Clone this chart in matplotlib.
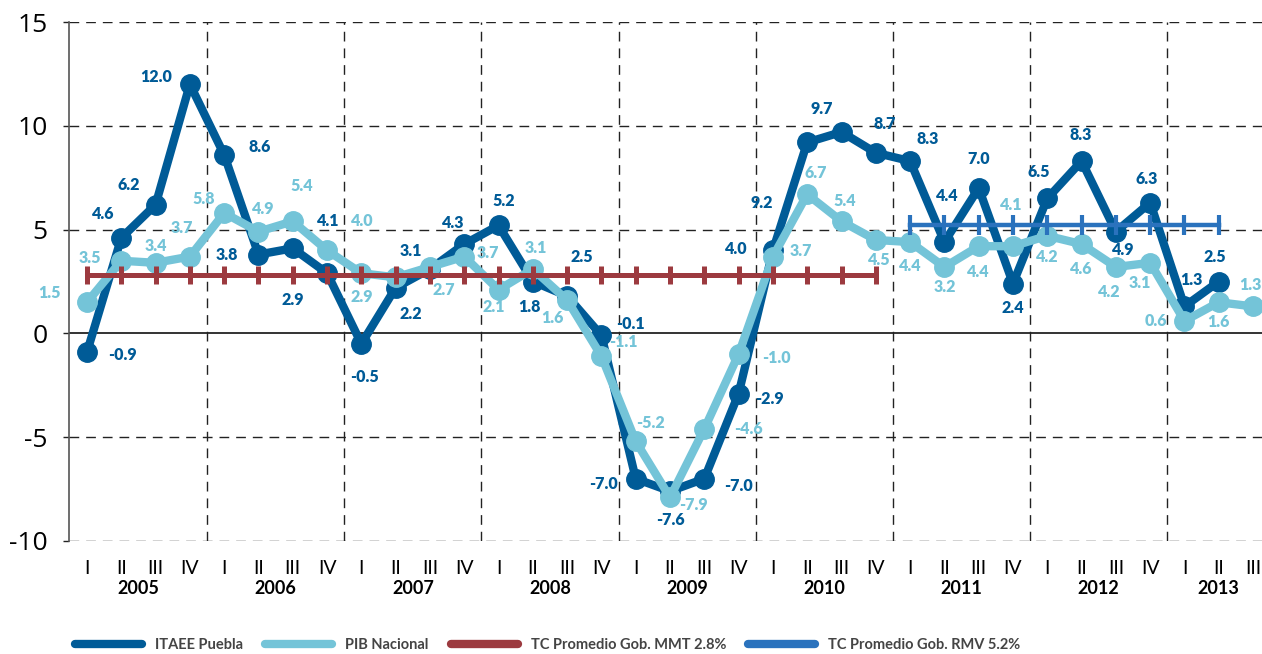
import numpy as np
import matplotlib
matplotlib.use('Agg')
import matplotlib.pyplot as plt
from matplotlib.lines import Line2D

# Quarters 2005 I .. 2013 III
years = ['2005', '2006', '2007', '2008', '2009', '2010', '2011', '2012', '2013']
quarters = ['I', 'II', 'III', 'IV']

# ITAEE Puebla (2005 I .. 2013 II)
itaee = [-0.9, 4.6, 6.2, 12.0, 8.6, 3.8, 4.1, 2.9, -0.5, 2.2, 3.1, 4.3,
         5.2, 2.5, 1.8, -0.1, -7.0, -7.6, -7.0, -2.9, 4.0, 9.2, 9.7, 8.7,
         8.3, 4.4, 7.0, 2.4, 6.5, 8.3, 4.9, 6.3, 1.3, 2.5]
itaee_labels = ['-0.9', '4.6', '6.2', '12.0', '8.6', '3.8', '4.1', '2.9', '-0.5', '2.2', '3.1', '4.3',
                '5.2', '1.8', '2.5', '-0.1', '-7.0', '-7.6', '-7.0', '-2.9', '4.0', '9.2', '9.7', '8.7',
                '8.3', '4.4', '7.0', '2.4', '6.5', '8.3', '4.9', '6.3', '1.3', '2.5']

# PIB Nacional (2005 I .. 2013 III)
pib = [1.5, 3.5, 3.4, 3.7, 5.8, 4.9, 5.4, 4.0, 2.9, 2.7, 3.2, 3.7,
       2.1, 3.1, 1.6, -1.1, -5.2, -7.9, -4.6, -1.0, 3.7, 6.7, 5.4, 4.5,
       4.4, 3.2, 4.2, 4.2, 4.7, 4.3, 3.2, 3.4, 0.6, 1.5, 1.3]
pib_labels = ['1.5', '3.5', '3.4', '3.7', '5.8', '4.9', '5.4', '4.0', '2.9', '', '2.7', '3.7',
              '2.1', '3.1', '1.6', '-1.1', '-5.2', '-7.9', '-4.6', '-1.0', '3.7', '6.7', '5.4', '4.5',
              '4.4', '3.2', '4.4', '4.1', '4.2', '4.6', '4.2', '3.1', '0.6', '1.6', '1.3']

# average growth lines
mmt_value = 2.8
mmt_range = (0, 23)     # 2005 I .. 2010 IV
rmv_value = 5.2
rmv_range = (24, 33)    # 2011 I .. 2013 II

legend_labels = ['ITAEE Puebla', 'PIB Nacional', 'TC Promedio Gob. MMT 2.8%', 'TC Promedio Gob. RMV 5.2%']

# label offsets in pixels (dx, dy with dy downward)
dark_off = [(35, 3), (-18, -24), (-27, -20), (-34, -7), (35, -8), (-32, 0), (35, -27), (-34, 27),
            (3, 33), (15, 26), (-19, -18), (-11, -21), (5, -24), (-3, 25), (15, -39), (29, -11),
            (-32, 5), (0, 29), (34, 7), (31, 5), (-37, -1), (-45, 61), (-20, -23), (9, -29),
            (18, -22), (3, -46), (0, -29), (0, 24), (-9, -26), (-1, -26), (7, 18), (-4, -24),
            (7, -26), (-4, -24)]
light_off = [(-38, -9), (-31, -3), (0, -17), (-8, -29), (-21, -14), (5, -23), (9, -35), (35, -29),
             (0, 24), (0, 0), (14, 23), (24, -4), (-5, 17), (3, -21), (-15, 18), (22, -14),
             (15, -18), (23, 8), (44, 0), (38, 4), (28, -6), (9, -21), (3, -20), (3, 20),
             (0, 24), (0, 20), (0, 26), (-2, -41), (0, 21), (0, 25), (-7, 25), (-10, 20),
             (-29, 0), (0, 20), (-3, -21)]

c_dark = '#005b97'
c_light = '#74c4d8'
c_red = '#9c3a3f'
c_blue = '#2a72bd'

fig = plt.figure(figsize=(12.62, 6.54), dpi=100)
ax = fig.add_axes([69 / 1262, 113 / 654, 1193 / 1262, 519 / 654])

x_dark = np.arange(len(itaee))
x_light = np.arange(len(pib))

ax.plot(x_dark, itaee, color=c_dark, lw=6, marker='o', ms=14, zorder=3, clip_on=False,
        solid_joinstyle='round')
ax.plot(x_light, pib, color=c_light, lw=6, marker='o', ms=14, zorder=4, clip_on=False,
        solid_joinstyle='round')

xm = np.arange(mmt_range[0], mmt_range[1] + 1)
ax.plot(xm, [mmt_value] * len(xm), color=c_red, lw=3.6, marker='|', ms=13, mew=3.6, zorder=5)
xr = np.arange(rmv_range[0], rmv_range[1] + 1)
ax.plot(xr, [rmv_value] * len(xr), color=c_blue, lw=3.2, marker='|', ms=14, mew=3.0, zorder=5)

lab_font = dict(fontsize=11.5, fontweight='heavy', family='Lato', ha='center', va='center')
for i in range(len(itaee)):
    dx, dy = dark_off[i]
    ax.annotate(itaee_labels[i], (x_dark[i], itaee[i]), xytext=(dx, -dy),
                textcoords='offset pixels', color=c_dark, zorder=6, annotation_clip=False, **lab_font)
for i in range(len(pib)):
    dx, dy = light_off[i]
    ax.annotate(pib_labels[i], (x_light[i], pib[i]), xytext=(dx, -dy),
                textcoords='offset pixels', color=c_light, zorder=6, annotation_clip=False, **lab_font)

ax.set_xlim(-0.525, 34.26)
ax.set_ylim(-10, 15)
ax.set_yticks([-10, -5, 0, 5, 10, 15])
ax.set_yticklabels(['-10', '-5', '0', '5', '10', '15'], fontsize=19, family='Open Sans')
ax.tick_params(axis='y', length=4.5, width=1, color='#222222', pad=11)

# grid
for yv in [-10, -5, 5, 10, 15]:
    ax.axhline(yv, color='#222222', lw=1, ls=(0, (7, 5)), zorder=1)
ax.axhline(0, color='#111111', lw=1.2, zorder=1)
for k in range(1, len(years)):
    ax.axvline(4 * k - 0.5, color='#222222', lw=1, ls=(0, (7, 5)), zorder=1)

for s in ['top', 'right', 'bottom']:
    ax.spines[s].set_visible(False)
ax.spines['left'].set_color('#555555')
ax.spines['left'].set_linewidth(1.2)

# x labels
ax.set_xticks(x_light)
ax.set_xticklabels([quarters[i % 4] for i in range(len(pib))], fontsize=14, family='Lato')
ax.tick_params(axis='x', length=0, pad=14)
for k, yr in enumerate(years):
    n = min(4, len(pib) - 4 * k)
    ax.annotate(yr, (4 * k + (n - 1) / 2, 0), xycoords=('data', 'axes fraction'),
                xytext=(0, -47), textcoords='offset pixels', ha='center', va='center',
                fontsize=13, fontweight='bold', family='Lato', annotation_clip=False)

handles = [Line2D([], [], color=c, lw=6, solid_capstyle='round') for c in [c_dark, c_light, c_red, c_blue]]
fig.legend(handles, legend_labels, loc='center left', bbox_to_anchor=(62 / 1262, 9 / 654),
           ncol=4, frameon=False, handlelength=4.6, handletextpad=0.9, columnspacing=1.5,
           prop={'family': 'Lato', 'weight': 'bold', 'size': 10.5}, labelcolor='#444444')

fig.savefig('out.png', dpi=100)
